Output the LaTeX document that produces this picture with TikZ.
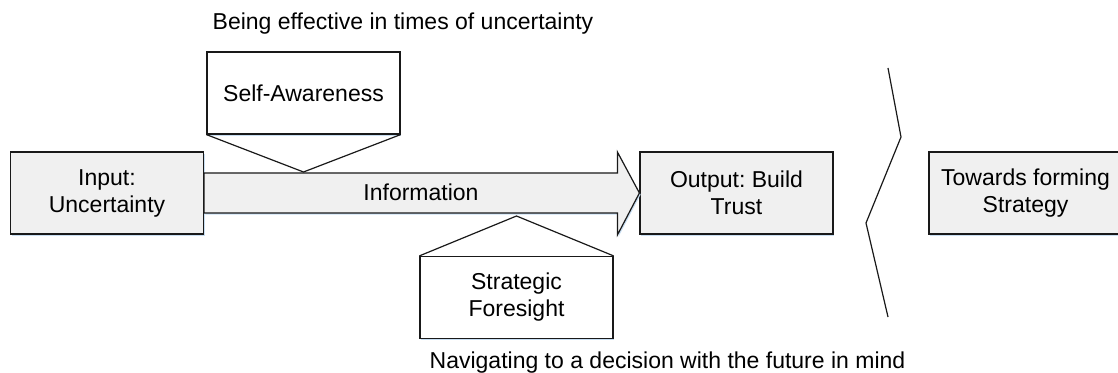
\documentclass[tikz,border=0pt]{standalone}
\usepackage{fontspec}
\setmainfont{Liberation Sans}
\usetikzlibrary{shadows}
\frenchspacing
\definecolor{boxgray}{RGB}{240,240,240}
\definecolor{edge}{RGB}{25,25,25}
\definecolor{shade}{RGB}{200,222,242}
\tikzset{lbl/.style = {font=\fontsize{11.5}{13.5}\selectfont, inner sep=0}}
\tikzset{box/.style = {draw=edge, fill=boxgray, line width=0.6pt, lbl,
                       minimum width=96.5pt, minimum height=41pt, align=center,
                       drop shadow={shadow xshift=0.6pt, shadow yshift=-0.8pt,
                                    fill=shade, opacity=1}}}
\tikzset{wbox/.style = {box, fill=white}}
\tikzset{thin edge/.style = {draw=edge, line width=0.6pt}}
\tikzset{infoarrow/.style = {thin edge, fill=boxgray, line join=miter,
                             drop shadow={shadow xshift=0.6pt, shadow yshift=-0.8pt,
                                          fill=shade, opacity=1}}}

\begin{document}
\begin{tikzpicture}[x=0.5pt, y=-0.5pt]
    \useasboundingbox (0,0) rectangle (1118,373);
    \clip (0,0) rectangle (1118,373);
    \node [box] (inp) at (107,193) {Input:\\Uncertainty};
    \node [box] (out) at (736.5,193) {Output: Build\\Trust};
    \node [box] (twd) at (1025.5,193) {Towards forming\\Strategy};
    \node [wbox] (self) at (303.5,93) {Self-Awareness};
    \node [wbox] (fore) at (516.5,297.5) {Strategic\\Foresight};
    \draw [infoarrow] ([yshift=10pt]inp.east) -- ([xshift=-11pt, yshift=10pt]out.west)
      -- ([xshift=-11pt, yshift=20.5pt]out.west) -- (out.west)
      -- ([xshift=-11pt, yshift=-21pt]out.west) -- ([xshift=-11pt, yshift=-10pt]out.west)
      -- ([yshift=-10pt]inp.east) -- cycle;
    \node [lbl] (info) at (421,192) {Information};
    \coordinate (selftip) at (303.5,172);
    \coordinate (foretip) at (516.5,216);
    \draw [thin edge] (self.south west) -- (selftip) -- (self.south east);
    \draw [thin edge] (fore.north west) -- (foretip) -- (fore.north east);
    \draw [thin edge] (888,68) -- (901,137) -- (866,223) -- (888,317);
    \node [lbl] (aware) at (403,24) {Being effective in times of uncertainty};
    \node [lbl] (navig) at (667.5,363) {Navigating to a decision with the future in mind};
\end{tikzpicture}
\end{document}
